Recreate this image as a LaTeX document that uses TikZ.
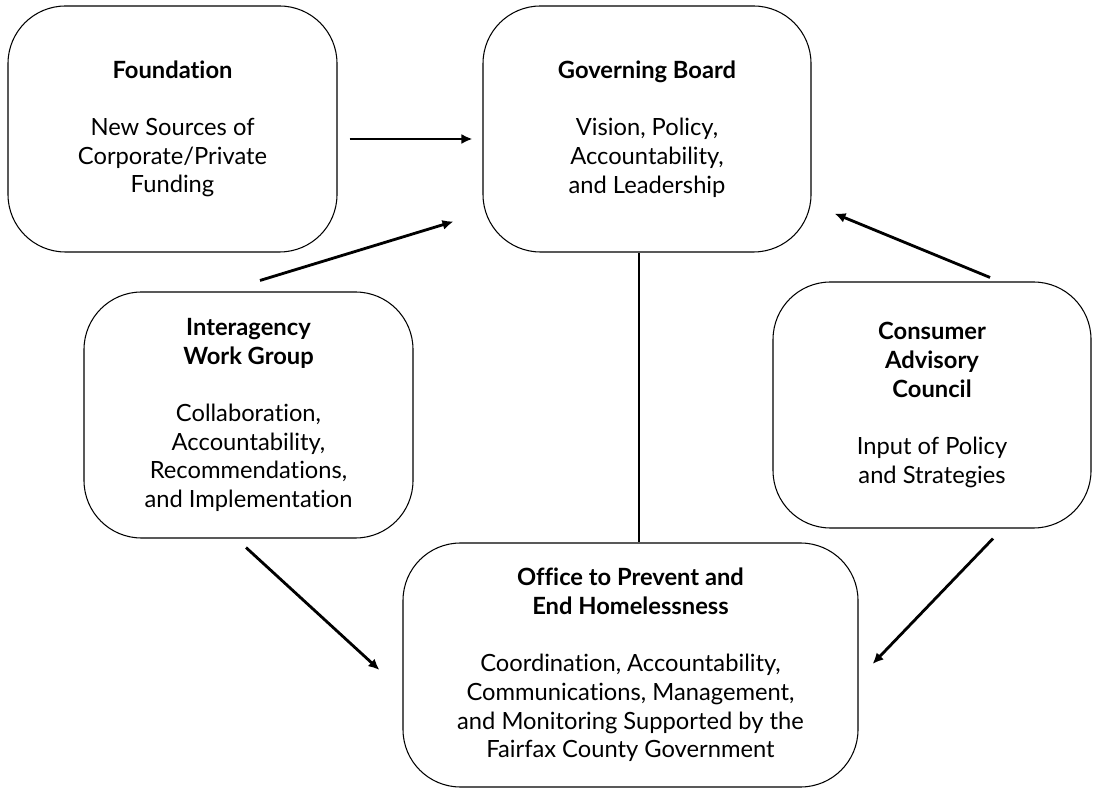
\documentclass[tikz,border=0pt]{standalone}
\usepackage{fontspec}
\setmainfont[Ligatures=NoCommon]{Lato}
\usetikzlibrary{arrows.meta,calc}

\begin{document}
\begin{tikzpicture}[
		unit/.style={draw, line width=0.6pt, rounded corners=1.15cm, minimum height=4.92cm, align=center, font=\fontsize{13.5}{16.4}\selectfont},
		feed/.style={-{Latex[length=2.2mm,width=2mm]}, line width=1.6pt},
		>=Latex
	]
	\useasboundingbox (0,0) rectangle (21.86,15.76);

	\node[unit, minimum width=6.58cm] (foundation) at (3.45,13.18) {\textbf{Foundation}\\[16pt]New Sources of\\Corporate/Private\\Funding};
	\node[unit, minimum width=6.56cm] (board) at (12.94,13.18) {\textbf{Governing Board}\\[16pt]Vision, Policy,\\Accountability,\\and Leadership};

	\node[unit, minimum width=6.58cm] (interagency) at (4.97,7.46) {\textbf{Interagency}\\\textbf{Work Group}\\[16pt]Collaboration,\\Accountability,\\Recommendations,\\and Implementation};
	\node[unit, minimum width=6.36cm] (consumer) at (18.64,7.66) {\textbf{Consumer}\\\textbf{Advisory}\\\textbf{Council}\\[16pt]Input of Policy\\and Strategies};

	\node[unit, minimum width=9.10cm, minimum height=4.88cm] (office) at (12.61,2.46) {\textbf{Office to Prevent and}\\\textbf{End Homelessness}\\[16pt]Coordination, Accountability,\\Communications, Management,\\and Monitoring Supported by the\\Fairfax County Government};

	\coordinate (stem) at (12.78,0);
	\draw[line width=0.6pt] (stem |- board.south) -- (stem |- office.north);

	\draw[feed] ([shift={(0.24,-0.2)}]foundation.east) -- ([shift={(-0.2,-0.2)}]board.west);
	\draw[feed] ([shift={(0.23,0.22)}]interagency.north) -- ([shift={(-0.58,0.62)}]board.south west);
	\draw[feed] ([shift={(1.16,0.08)}]consumer.north) -- ([shift={(0.46,0.78)}]board.south east);
	\draw[feed] ([shift={(-0.05,-0.18)}]interagency.south) -- ([shift={(-0.46,-0.1)}]office.west);
	\draw[feed] ([shift={(1.22,-0.2)}]consumer.south) -- ([shift={(0.28,0.02)}]office.east);
\end{tikzpicture}
\end{document}
